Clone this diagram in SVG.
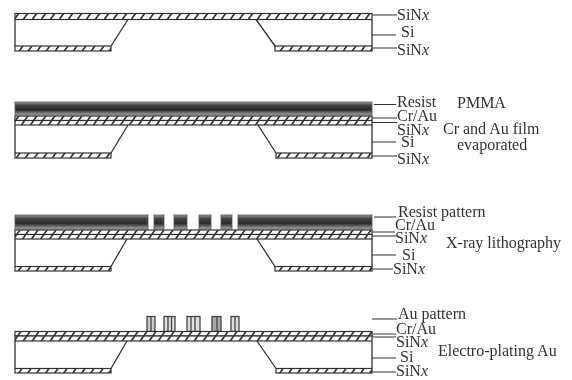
<svg xmlns="http://www.w3.org/2000/svg" width="572" height="380" viewBox="0 0 572 380">
<defs>
<pattern id="h" width="9" height="9" patternUnits="userSpaceOnUse" patternTransform="skewX(-35)">
<rect width="9" height="9" fill="#fff"/><rect width="2" height="9" fill="#333"/>
</pattern>
<linearGradient id="r" x1="0" y1="0" x2="0" y2="1">
<stop offset="0" stop-color="#999"/><stop offset=".25" stop-color="#444"/><stop offset=".6" stop-color="#2a2a2a"/><stop offset=".85" stop-color="#777"/><stop offset="1" stop-color="#b5b5b5"/>
</linearGradient>
<filter id="b" x="-2%" y="-2%" width="104%" height="104%"><feGaussianBlur stdDeviation="0.45"/></filter>
</defs>
<style>
.f{fill:url(#h);stroke:#333;stroke-width:1.2}
.r{fill:url(#r);stroke:#555;stroke-width:.8}
.s{fill:none;stroke:#333;stroke-width:1.3}
.l{fill:none;stroke:#333;stroke-width:1.1}
text{font-family:"Liberation Serif","Times New Roman",serif;font-size:16px;fill:#333}
</style>
<rect width="572" height="380" fill="#fff"/>
<g filter="url(#b)">
<g id="step1">
<rect class="f" x="15" y="13.500" width="357" height="6"/>
<rect class="f" x="15" y="46" width="96" height="5"/>
<rect class="f" x="275" y="46" width="97" height="5"/>
<path class="s" d="M15 19.500V46M111 46L128 19.500M256 19.500L275 46M372 19.500V46"/>
</g>
<g id="step2">
<rect class="r" x="15" y="102" width="357" height="13"/>
<rect class="f" x="15" y="116" width="357" height="4.500"/>
<rect class="f" x="15" y="120.500" width="357" height="4.500"/>
<rect class="f" x="15" y="153" width="96" height="5"/>
<rect class="f" x="276" y="153" width="96" height="5"/>
<path class="s" d="M15 125V153M111 153L128 125M258 125L276 153M372 125V153"/>
</g>
<g id="step3">
<rect class="r" x="15" y="215" width="133" height="14"/>
<rect class="r" x="154" y="215" width="10" height="14"/>
<rect class="r" x="174" y="215" width="13" height="14"/>
<rect class="r" x="199" y="215" width="12" height="14"/>
<rect class="r" x="221" y="215" width="11" height="14"/>
<rect class="r" x="238" y="215" width="134" height="14"/>
<rect class="f" x="15" y="230" width="357" height="4.500"/>
<rect class="f" x="15" y="234.500" width="357" height="4.500"/>
<rect class="f" x="15" y="266.500" width="96" height="4.500"/>
<rect class="f" x="275" y="266.500" width="97" height="4.500"/>
<path class="s" d="M15 239V266.500M111 266.500L127 239M257 239L275 266.500M372 239V266.500"/>
</g>
<g id="step4">
<g fill="none" stroke="#444" stroke-width="1.300">
<rect x="147" y="316.500" width="8" height="15" fill="#ccc"/><path d="M151 317V331"/>
<rect x="164" y="316.500" width="11" height="15" fill="#ddd"/><path d="M168 317V331M171.500 317V331"/>
<rect x="187" y="316.500" width="13" height="15" fill="#ddd"/><path d="M191 317V331M195 317V331"/>
<rect x="212" y="316.500" width="9" height="15" fill="#aaa"/><path d="M217 317V331"/>
<rect x="231" y="316.500" width="8" height="15" fill="#ddd"/><path d="M235 317V331"/>
</g>
<rect class="f" x="15" y="331.500" width="357" height="4.500"/>
<rect class="f" x="15" y="336" width="357" height="5"/>
<rect class="f" x="15" y="368.500" width="96" height="4.500"/>
<rect class="f" x="276" y="368.500" width="96" height="4.500"/>
<path class="s" d="M15 341V368.500M111 368.500L127 341M257 341L276 368.500M372 341V368.500"/>
</g>
<g id="connectors">
<path class="l" d="M372 15H397M372 35H396M372 48H397"/>
<path class="l" d="M374 104.500H396M372 118H397M372 122.500H397M372 142H396M372 156H397"/>
<path class="l" d="M374 217H396M372 232H395M372 236H396M372 255H396M372 269H393"/>
<path class="l" d="M372 319H397M372 334H396M372 337H396M372 358H396M372 372H396"/>
</g>
<g id="labels">
<text x="397" y="20">SiN<tspan font-style="italic">x</tspan></text>
<text x="401" y="37">Si</text>
<text x="397" y="55">SiN<tspan font-style="italic">x</tspan></text>
<text x="397" y="107">Resist</text>
<text x="397" y="121">Cr/Au</text>
<text x="397" y="135">SiN<tspan font-style="italic">x</tspan></text>
<text x="401" y="147">Si</text>
<text x="397" y="164">SiN<tspan font-style="italic">x</tspan></text>
<text x="457" y="108">PMMA</text>
<text x="443" y="134">Cr and Au film</text>
<text x="457" y="150">evaporated</text>
<text x="398" y="217">Resist pattern</text>
<text x="395" y="230">Cr/Au</text>
<text x="395" y="243">SiN<tspan font-style="italic">x</tspan></text>
<text x="402" y="260">Si</text>
<text x="393" y="274">SiN<tspan font-style="italic">x</tspan></text>
<text x="446" y="248">X-ray lithography</text>
<text x="398" y="319">Au pattern</text>
<text x="396" y="334">Cr/Au</text>
<text x="396" y="347">SiN<tspan font-style="italic">x</tspan></text>
<text x="400" y="362">Si</text>
<text x="396" y="376">SiN<tspan font-style="italic">x</tspan></text>
<text x="438" y="356">Electro-plating Au</text>
</g>
</g>
</svg>
